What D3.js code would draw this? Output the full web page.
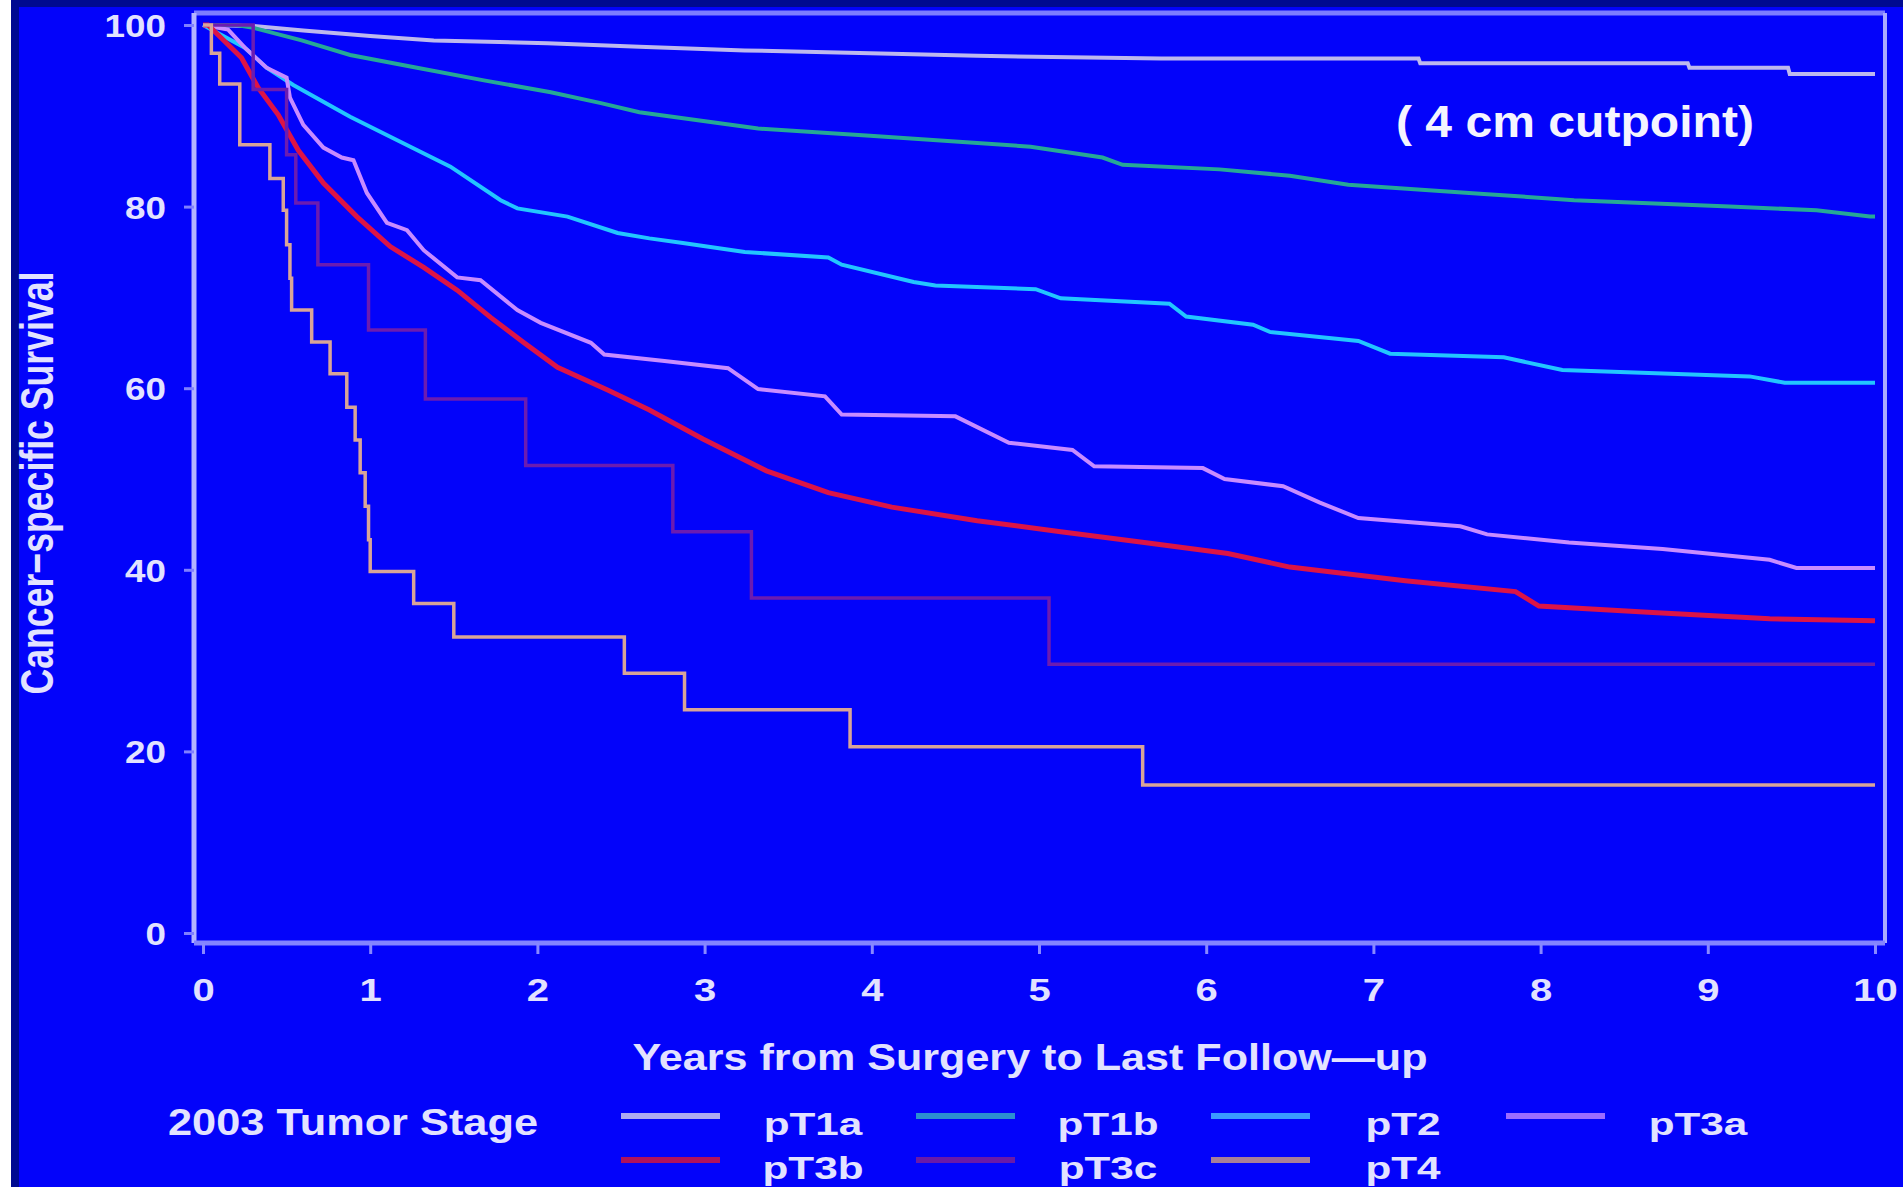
<!DOCTYPE html>
<html>
<head>
<meta charset="utf-8">
<script src="https://cdn.jsdelivr.net/npm/d3@7"></script>
<style>
  body { margin: 0; background: #0303fa; }
  svg { display: block; }
</style>
</head>
<body>
<svg id="chart"></svg>
<script>
// Survival values: [years, survival %]
const stages = ["pT1a", "pT1b", "pT2", "pT3a", "pT3b", "pT3c", "pT4"];

const pT1a = [[0,100],[0.3,99.9],[0.6,99.4],[1.0,98.8],[1.38,98.3],[2.06,98.0],[2.61,97.6],[3.24,97.2],
  [3.99,96.9],[4.63,96.6],[5.73,96.3],[7.27,96.3],[7.28,95.8],[8.88,95.8],[8.89,95.3],[9.48,95.3],[9.49,94.6],[10,94.6]];

const pT1b = [[0,100],[0.2,100],[0.30,99.7],[0.59,98.3],[0.88,96.7],[1.28,95.3],[1.68,93.9],[2.08,92.6],
  [2.38,91.4],[2.61,90.4],[3.32,88.6],[3.99,87.8],[4.95,86.6],[5.38,85.4],[5.5,84.6],[6.08,84.1],[6.5,83.4],
  [6.85,82.4],[7.66,81.4],[8.2,80.7],[9.13,80.0],[9.65,79.6],[9.97,78.9],[10,78.9]];

const pT2 = [[0,100],[0.25,97.5],[0.38,95.3],[0.54,93.4],[0.88,89.9],[1.24,86.6],[1.48,84.4],[1.78,80.7],
  [1.88,79.8],[2.18,78.9],[2.48,77.1],[2.67,76.5],[2.87,76.0],[3.24,75.0],[3.74,74.4],[3.82,73.6],[4.25,71.7],
  [4.38,71.3],[4.98,70.9],[5.13,69.9],[5.78,69.3],[5.88,67.9],[6.28,67.0],[6.38,66.2],[6.91,65.2],[7.10,63.8],
  [7.78,63.4],[8.13,62.0],[9.25,61.3],[9.46,60.6],[10,60.6]];

const pT3a = [[0,100],[0.15,99.5],[0.25,97.5],[0.38,95.3],[0.5,94.2],[0.52,92.0],[0.6,89.0],[0.72,86.5],
  [0.83,85.4],[0.9,85.1],[0.98,81.5],[1.10,78.2],[1.22,77.4],[1.32,75.2],[1.52,72.2],[1.66,71.9],[1.88,68.6],
  [2.02,67.2],[2.32,65.0],[2.40,63.7],[2.76,63.0],[3.14,62.2],[3.32,59.9],[3.72,59.1],[3.82,57.1],[4.50,56.9],
  [4.82,54.0],[5.20,53.2],[5.33,51.4],[5.98,51.2],[6.11,50.0],[6.46,49.2],[6.68,47.4],[6.91,45.7],[7.52,44.8],
  [7.68,43.9],[8.17,43.0],[8.73,42.3],[9.37,41.1],[9.53,40.2],[10,40.2]];

const pT3b = [[0,100],[0.03,100],[0.23,96.4],[0.33,93.1],[0.45,90.1],[0.57,86.2],[0.72,82.6],[0.92,78.9],
  [1.12,75.6],[1.32,73.3],[1.52,70.8],[1.72,67.8],[1.92,65.0],[2.12,62.3],[2.42,59.8],[2.67,57.6],[2.99,54.4],
  [3.37,50.9],[3.74,48.5],[4.12,46.9],[4.63,45.4],[5.13,44.2],[5.63,43.0],[6.13,41.8],[6.5,40.3],[7.19,38.8],
  [7.85,37.6],[7.99,36.0],[8.67,35.3],[9.37,34.6],[10,34.4]];

// step curves: value after each event time
const pT3c = [[0,100],[0.30,92.9],[0.50,85.7],[0.555,80.4],[0.687,73.6],[0.99,66.4],[1.33,58.8],[1.93,51.5],
  [2.81,44.2],[3.28,36.9],[5.06,29.6],[10,29.6]];

const pT4 = [[0,100],[0.05,96.9],[0.10,93.5],[0.22,86.8],[0.40,83.1],[0.48,79.6],[0.50,75.8],[0.52,72.1],
  [0.53,68.6],[0.65,65.1],[0.76,61.6],[0.86,57.9],[0.91,54.3],[0.94,50.7],[0.97,47.0],[0.99,43.3],[1.00,39.8],
  [1.26,36.3],[1.50,32.6],[2.52,28.6],[2.88,24.6],[3.87,20.5],[5.62,16.3],[10,16.3]];

const xTicks = [0, 1, 2, 3, 4, 5, 6, 7, 8, 9, 10];
const yTicks = [0, 20, 40, 60, 80, 100];

const series = { pT1a, pT1b, pT2, pT3a, pT3b, pT3c, pT4 };

// Look of each curve
const colors = {
  pT1a: "#bdb8ee", pT1b: "#26a896", pT2: "#22c6ff", pT3a: "#c88cff",
  pT3b: "#dc1446", pT3c: "#6c1cb0", pT4: "#d8a498"
};
const keyColors = {
  pT1a: "#aeaaf0", pT1b: "#2c90d0", pT2: "#3a9cff", pT3a: "#9c6cff",
  pT3b: "#b0125c", pT3c: "#6a1aa8", pT4: "#a88098"
};
const widths = { pT1a: 4, pT1b: 4, pT2: 4, pT3a: 4, pT3b: 5, pT3c: 3.5, pT4: 3.5 };
const stepped = new Set(["pT3c", "pT4"]);

const W = 1903, H = 1187;
const font = "'Liberation Sans', Arial, sans-serif";
const txt = "#e2e2ff";

// the picture's lettering is wider than Arial at the same height
function widen(sel, k) {
  sel.each(function() {
    const w = this.getComputedTextLength();
    d3.select(this).attr("textLength", w * k).attr("lengthAdjust", "spacingAndGlyphs");
  });
}

const svg = d3.select("#chart").attr("width", W).attr("height", H);

// backdrop, with the dark and white strips at the edges
svg.append("rect").attr("width", W).attr("height", H).attr("fill", "#0303fa");
svg.append("rect").attr("width", W).attr("height", 7).attr("fill", "#000a90");
svg.append("rect").attr("x", 11).attr("width", 8).attr("height", H).attr("fill", "#000a90");
svg.append("rect").attr("width", 11).attr("height", H).attr("fill", "#ffffff");

const x = d3.scaleLinear().domain([0, 10]).range([203, 1875]);
const y = d3.scaleLinear().domain([0, 100]).range([933, 25]);

const frameL = 194, frameR = 1885, frameT = 13, frameB = 943;

// curves
const lineLin = d3.line().x(d => x(d[0])).y(d => y(d[1]));
const lineStep = d3.line().x(d => x(d[0])).y(d => y(d[1])).curve(d3.curveStepAfter);

svg.append("g").selectAll("path")
  .data(stages)
  .join("path")
  .attr("fill", "none")
  .attr("stroke", d => colors[d])
  .attr("stroke-width", d => widths[d])
  .attr("stroke-linejoin", "miter")
  .attr("d", d => (stepped.has(d) ? lineStep : lineLin)(series[d]));

// frame
const frame = svg.append("g");
frame.append("line").attr("x1", frameL).attr("x2", frameR).attr("y1", frameT).attr("y2", frameT)
  .attr("stroke", "#7c7cff").attr("stroke-width", 5);
frame.append("line").attr("x1", frameR).attr("x2", frameR).attr("y1", frameT).attr("y2", frameB)
  .attr("stroke", "#aaaaff").attr("stroke-width", 4);

// y axis
const yAxis = svg.append("g").attr("transform", `translate(${frameL},0)`)
  .call(d3.axisLeft(y).tickValues(yTicks).tickSize(10).tickPadding(18));
yAxis.select(".domain").attr("d", `M0,${frameT}V${frameB}`).attr("stroke", "#b4b4ff").attr("stroke-width", 5);
yAxis.selectAll(".tick line").attr("stroke", "#8080ff").attr("stroke-width", 3);
yAxis.selectAll(".tick text")
  .attr("fill", txt).attr("font-family", font).attr("font-weight", "bold").attr("font-size", 32)
  .attr("dy", "0.36em")
  .call(widen, 1.15);

// x axis
const xAxis = svg.append("g").attr("transform", `translate(0,${frameB})`)
  .call(d3.axisBottom(x).tickValues(xTicks).tickSize(11).tickPadding(24));
xAxis.select(".domain").attr("d", `M${frameL},0H${frameR}`).attr("stroke", "#8484ff").attr("stroke-width", 5);
xAxis.selectAll(".tick line").attr("stroke", "#8888ff").attr("stroke-width", 3);
xAxis.selectAll(".tick text")
  .attr("fill", txt).attr("font-family", font).attr("font-weight", "bold").attr("font-size", 32)
  .attr("dy", "0.71em")
  .call(widen, 1.25);

// axis titles
svg.append("text")
  .attr("x", 1030).attr("y", 1070).attr("text-anchor", "middle")
  .attr("fill", txt).attr("font-family", font).attr("font-weight", "bold").attr("font-size", 37)
  .attr("textLength", 795).attr("lengthAdjust", "spacingAndGlyphs")
  .text("Years  from  Surgery  to  Last  Follow\u2014up");

svg.append("text")
  .attr("transform", "translate(53,483) scale(1.3,1) rotate(-90)").attr("text-anchor", "middle")
  .attr("fill", txt).attr("font-family", font).attr("font-weight", "bold").attr("font-size", 36)
  .attr("textLength", 423).attr("lengthAdjust", "spacingAndGlyphs")
  .text("Cancer\u2212specific  Survival");

// note
svg.append("text")
  .attr("x", 1396).attr("y", 137)
  .attr("fill", "#f4f4ff").attr("font-family", font).attr("font-weight", "bold").attr("font-size", 44)
  .attr("textLength", 358).attr("lengthAdjust", "spacingAndGlyphs")
  .text("( 4 cm cutpoint)");

// legend
const legend = svg.append("g");
legend.append("text")
  .attr("x", 168).attr("y", 1135)
  .attr("fill", txt).attr("font-family", font).attr("font-weight", "bold").attr("font-size", 36)
  .attr("textLength", 370).attr("lengthAdjust", "spacingAndGlyphs")
  .text("2003  Tumor  Stage");

const item = legend.selectAll("g.item")
  .data(stages)
  .join("g")
  .attr("class", "item")
  .attr("transform", (d, i) => `translate(${621 + (i % 4) * 295},${i < 4 ? 1116 : 1160})`);

item.append("line")
  .attr("x1", 0).attr("x2", 99)
  .attr("stroke", d => keyColors[d]).attr("stroke-width", 6);

item.append("text")
  .attr("x", 192).attr("y", 19).attr("text-anchor", "middle")
  .attr("fill", txt).attr("font-family", font).attr("font-weight", "bold").attr("font-size", 32)
  .text(d => d)
  .call(widen, 1.32);
</script>
</body>
</html>
